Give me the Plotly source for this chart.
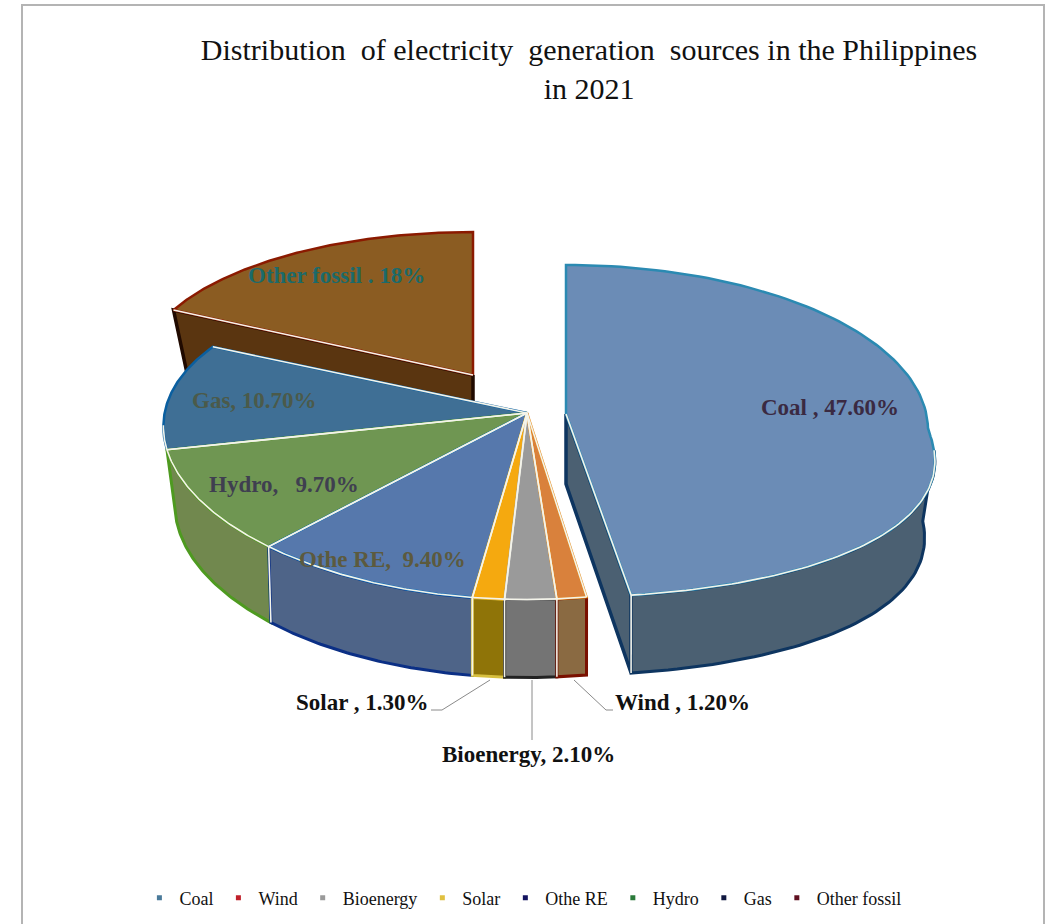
import numpy as np
import plotly.graph_objects as go

# Share of electricity generation by source, percent, clockwise from twelve o'clock
sources = ["Coal", "Wind", "Bioenergy", "Solar", "Othe RE", "Hydro", "Gas", "Other fossil"]
shares = [47.6, 1.2, 2.1, 1.3, 9.4, 9.7, 10.7, 18.0]
data_labels = ["Coal , 47.60%", "Wind , 1.20%", "Bioenergy, 2.10%", "Solar , 1.30%",
               "Othe RE,  9.40%", "Hydro,   9.70%", "Gas, 10.70%", "Other fossil . 18%"]

TITLE = "Distribution  of electricity  generation  sources in the Philippines<br>in 2021"
SERIF = "Liberation Serif"

# Perspective settings for the pie body and its two pulled-out slices
MAIN = dict(ax=527, ay=413, x0=527, y0=411, rx=362, kf=0.096, kb=0.096, b=162, d=26.5, h=70, dh=8)
COAL = dict(ax=566, ay=414, x0=566, y0=430, rx=362, kf=0.2, kb=0.0, b=166, d=1, h=70, dh=8)
FOSSIL = dict(ax=473, ay=375, x0=473, y0=368, rx=331, kf=0.0, kb=0.0, b=136, d=0, h=70, dh=0)
GEOMETRY = [COAL, MAIN, MAIN, MAIN, MAIN, MAIN, MAIN, FOSSIL]

top_colors = ["#6b8cb6", "#d9813c", "#9a9a9a", "#f5a90f", "#5678ac", "#6f9652", "#3f6f95", "#8b5c22"]
rim_colors = ["#2b8ab2", "#e58a18", "#a8a8a8", "#f5a90f", "#1170b8", "#5f9a30", "#0a5fa0", "#8b1a00"]
wall_colors = ["#4b6072", "#8a6a42", "#747474", "#8f7408", "#4e6488", "#71884e", None, "#5a3510"]
wall_edges = ["#0e3560", "#7a1000", "#222222", "#d8c040", "#0b2f85", "#4e9a20", None, "#200a00"]
legend_colors = ["#4a7a9a", "#c0202a", "#9a9a9a", "#e0c040", "#141460", "#2a7a3a", "#101840", "#601020"]
label_colors = ["#3a2a42", "#111111", "#111111", "#111111", "#5c5a3e", "#3f3f50", "#4b5a4a", "#1c6a6a"]
HIGHLIGHT = "#f4f4ea"

# Inside labels sit on the slices, outside labels carry a leader line
label_xy = [(830, 407), (682, 702), (528, 754), (362, 702), (382, 559), (284, 484), (254, 400), (336, 275)]
leaders = [((490, 680), (442, 710), (431, 710)), ((532, 680), (532, 740)), ((574, 680), (606, 710), (613, 710))]


def project(theta, g):
    """Map pie angles (degrees clockwise from the top) onto the tilted plane."""
    t = np.radians(theta)
    s, c = np.sin(t), -np.cos(t)
    scale = 1 + np.where(c > 0, g["kf"], g["kb"]) * c
    return g["x0"] + g["rx"] * s * scale, g["y0"] + g["b"] * c + g["d"] * c * c


def lower_ring(theta, g):
    """Bottom rim of the disc: it narrows slightly away from the front."""
    x, y = project(theta, g)
    c = -np.cos(np.radians(theta))
    return g["x0"] + (x - g["x0"]) * (1 - 0.035 * (1 - c)), y + g["h"] + g["dh"] * c


def poly(fig, x, y, fill, line, width, name):
    fig.add_trace(go.Scatter(x=list(x), y=list(y), mode="lines", fill="toself" if fill else "none",
                             fillcolor=fill, line=dict(color=line, width=width), name=name,
                             showlegend=False, hoverinfo="skip"))


fig = go.Figure()

edges = np.concatenate([[0], np.cumsum(shares)]) * 3.6
spans = list(zip(edges[:-1], edges[1:]))


def draw_wall(i, start=90):
    g, (a0, a1) = GEOMETRY[i], spans[i]
    lo, hi = max(a0, start), min(a1, 270)
    th = np.linspace(lo, hi, 60)
    x, y = project(th, g)
    bx, by = lower_ring(th, g)
    poly(fig, np.r_[x, bx[::-1], x[0]], np.r_[y, by[::-1], y[0]],
         wall_colors[i], wall_edges[i], 3, sources[i])


def draw_cut(i, angle):
    # Exposed radial face of a pulled-out slice
    g = GEOMETRY[i]
    px, py = project(np.array([angle]), g)
    bx, by = lower_ring(np.array([angle]), g)
    ax, ay = g["ax"], g["ay"]
    poly(fig, [ax, px[0], bx[0], ax, ax], [ay, py[0], by[0], ay + g["h"], ay],
         wall_colors[i], wall_edges[i], 3.5, sources[i])


def draw_top(i):
    g, (a0, a1) = GEOMETRY[i], spans[i]
    th = np.linspace(a0, a1, 120)
    x, y = project(th, g)
    ax, ay = g["ax"], g["ay"]
    poly(fig, np.r_[ax, x, ax], np.r_[ay, y, ay], top_colors[i], rim_colors[i], 2.5, sources[i])


def draw_radial(i, angle):
    g = GEOMETRY[i]
    px, py = project(np.array([angle]), g)
    poly(fig, [g["ax"], px[0]], [g["ay"], py[0]], None, HIGHLIGHT, 1.6, sources[i])


def draw_front_arc(i, start=95):
    g, (a0, a1) = GEOMETRY[i], spans[i]
    lo, hi = max(a0, start), min(a1, 265)
    if lo < hi:
        x, y = project(np.linspace(lo, hi, 80), g)
        poly(fig, x, y, None, HIGHLIGHT, 1.6, sources[i])


def draw_seam(i, angle):
    g = GEOMETRY[i]
    px, py = project(np.array([angle]), g)
    bx, by = lower_ring(np.array([angle]), g)
    poly(fig, [px[0], bx[0]], [py[0], by[0]], None, HIGHLIGHT, 1.6, sources[i])


# Back slice first, then the pie body from the rear towards the viewer
draw_cut(7, spans[7][0])
draw_top(7)
draw_radial(7, spans[7][0])

BODY = (6, 5, 4, 3, 2, 1)
for i in BODY:
    if wall_colors[i] is not None:
        draw_wall(i)
for i in BODY:
    draw_top(i)
for i in BODY:
    draw_radial(i, spans[i][0])
    draw_radial(i, spans[i][1])
    draw_front_arc(i)
for i in (5, 4, 3, 2):
    draw_seam(i, spans[i][0])

# Coal slice, pulled out to the right
draw_cut(0, spans[0][1])
draw_wall(0, start=97)
draw_top(0)
draw_radial(0, spans[0][1])
draw_front_arc(0, start=97)
draw_seam(0, spans[0][1])

# Leader lines for the three thin slices
for pts in leaders:
    poly(fig, [p[0] for p in pts], [p[1] for p in pts], None, "#8a8a8a", 1, "leader")

# Legend keys are carried by empty marker traces
for name, colour in zip(sources, legend_colors):
    fig.add_trace(go.Scatter(x=[None], y=[None], mode="markers", name=name,
                             marker=dict(symbol="square", size=5, color=colour)))

for text, (lx, ly), colour in zip(data_labels, label_xy, label_colors):
    fig.add_annotation(x=lx, y=ly, xref="x", yref="y", text=text, showarrow=False,
                       font=dict(family=SERIF, size=23, color=colour, weight="bold"))

# Frame around the chart area, open along the bottom
fig.add_shape(type="path", path="M 22 924 L 22 5 L 1044 5 L 1044 924", xref="x", yref="y",
              line=dict(color="#b4b4b4", width=2))

fig.update_layout(
    width=1050, height=924, autosize=False,
    margin=dict(l=0, r=0, t=0, b=0),
    paper_bgcolor="white", plot_bgcolor="white",
    title=dict(text=TITLE, x=0.561, xanchor="center", y=0.935, yanchor="top",
               font=dict(family=SERIF, size=30, color="#111111")),
    xaxis=dict(range=[0, 1050], visible=False, fixedrange=True),
    yaxis=dict(range=[924, 0], visible=False, fixedrange=True),
    legend=dict(orientation="h", x=0.498, xanchor="center", y=0.008, yanchor="bottom",
                font=dict(family=SERIF, size=18, color="#111111"),
                itemwidth=30, bgcolor="rgba(0,0,0,0)", traceorder="normal"),
)

fig.write_html("out.html")
